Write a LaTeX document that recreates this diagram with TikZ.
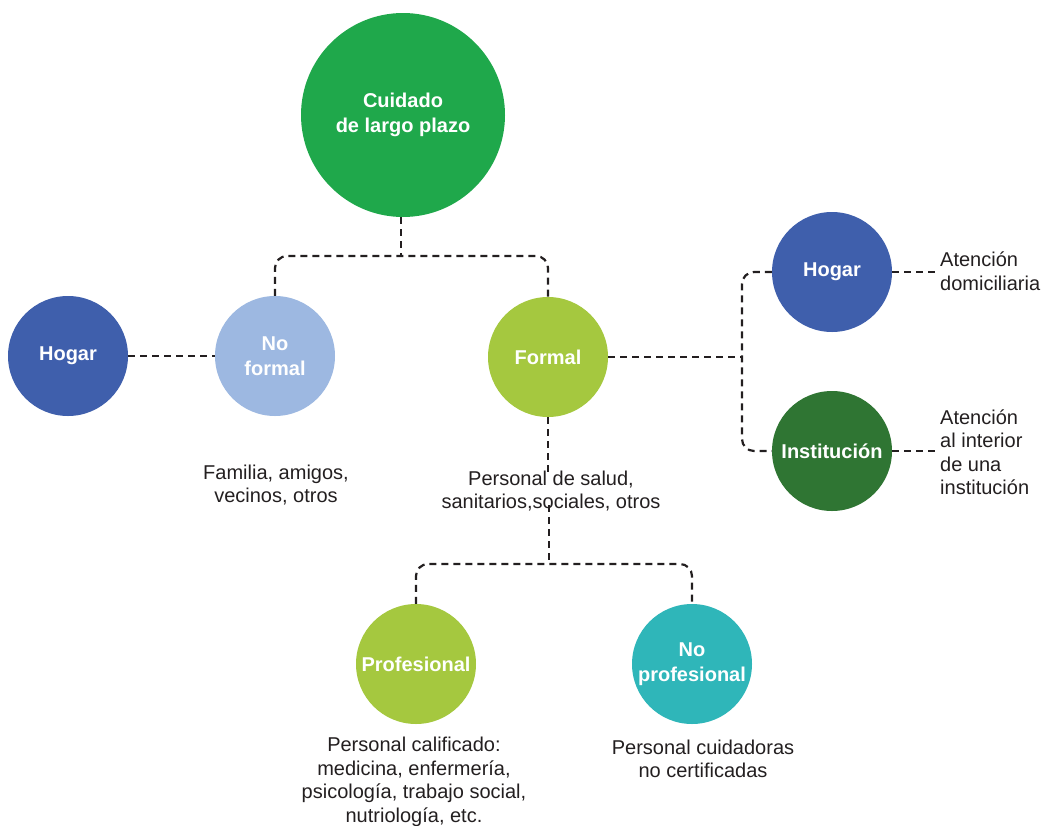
\documentclass[tikz,border=0pt]{standalone}
\usepackage{fontspec}
\setmainfont{Liberation Sans}
\definecolor{cgreen}{HTML}{1FA84B}
\definecolor{cblue}{HTML}{3F5FAC}
\definecolor{clblue}{HTML}{9DB8E1}
\definecolor{clime}{HTML}{A5C83F}
\definecolor{cdgreen}{HTML}{2F7533}
\definecolor{cteal}{HTML}{2FB6B9}
\definecolor{ctext}{HTML}{231F20}
\tikzset{
  circ/.style={circle, inner sep=0pt, minimum size=120pt, text=white, font=\fontsize{20}{25}\selectfont\bfseries, align=center},
  conn/.style={draw=ctext, line width=2.2pt, dash pattern=on 7pt off 5pt},
  lbl/.style={text=ctext, font=\fontsize{20}{23.5}\selectfont, align=center, inner sep=0pt},
  lbll/.style={text=ctext, font=\fontsize{20}{23.5}\selectfont, align=left, inner sep=0pt, anchor=west},
}
\begin{document}
\begin{tikzpicture}[x=1pt,y=-1pt]
\useasboundingbox (0,0) rectangle (1044,825);
% circles
\node[circ, fill=cgreen, minimum size=204pt] (cuid) at (403,115) {Cuidado\\de largo plazo};
\node[circ, fill=cblue] (hogl) at (68,356) {Hogar};
\node[circ, fill=clblue] (nof) at (275,356) {No\\formal};
\node[circ, fill=clime] (form) at (548,357) {Formal};
\node[circ, fill=cblue] (hogr) at (832,272) {Hogar};
\node[circ, fill=cdgreen] (inst) at (832,451) {Institución};
\node[circ, fill=clime] (prof) at (416,664) {Profesional};
\node[circ, fill=cteal] (noprof) at (692,664) {No\\profesional};
% labels
\node[lbl] (tfam) at (276,485) {Familia, amigos,\\vecinos, otros};
\node[lbl] (tsal) at (551,491) {Personal de salud,\\sanitarios,sociales, otros};
\node[lbll] (tdom) at (940,271) {Atención\\domiciliaria};
\node[lbll] (tins) at (940,452) {Atención\\al interior\\de una\\institución};
\node[lbl] (tcal) at (414,782) {Personal calificado:\\medicina, enfermería,\\psicología, trabajo social,\\nutriología, etc.};
\node[lbl] (tcui) at (703,759) {Personal cuidadoras\\no certificadas};
% junction coordinates
\coordinate (j1) at (401,256);
\coordinate (j2) at (742,357);
\coordinate (j3) at (549,564);
\coordinate (e1) at (935,272);
\coordinate (e2) at (935,451);
% connectors
\draw[conn] (cuid.south -| j1) -- (j1);
\draw[conn, rounded corners=12pt] (nof.north) |- (j1) -| (form.north);
\draw[conn] (hogl.east) -- (nof.west |- hogl.east);
\draw[conn] (form.east) -- (j2);
\draw[conn, rounded corners=12pt] (hogr.west) -| (j2) |- (inst.west);
\draw[conn] (hogr.east) -- (e1);
\draw[conn] (inst.east) -- (e2);
\draw[conn] (form.south) -- ([yshift=-4pt]tsal.north -| form.south);
\draw[conn] ([yshift=6pt]tsal.south -| j3) -- (j3);
\draw[conn, rounded corners=12pt] (prof.north) |- (j3) -| (noprof.north);
\end{tikzpicture}
\end{document}
